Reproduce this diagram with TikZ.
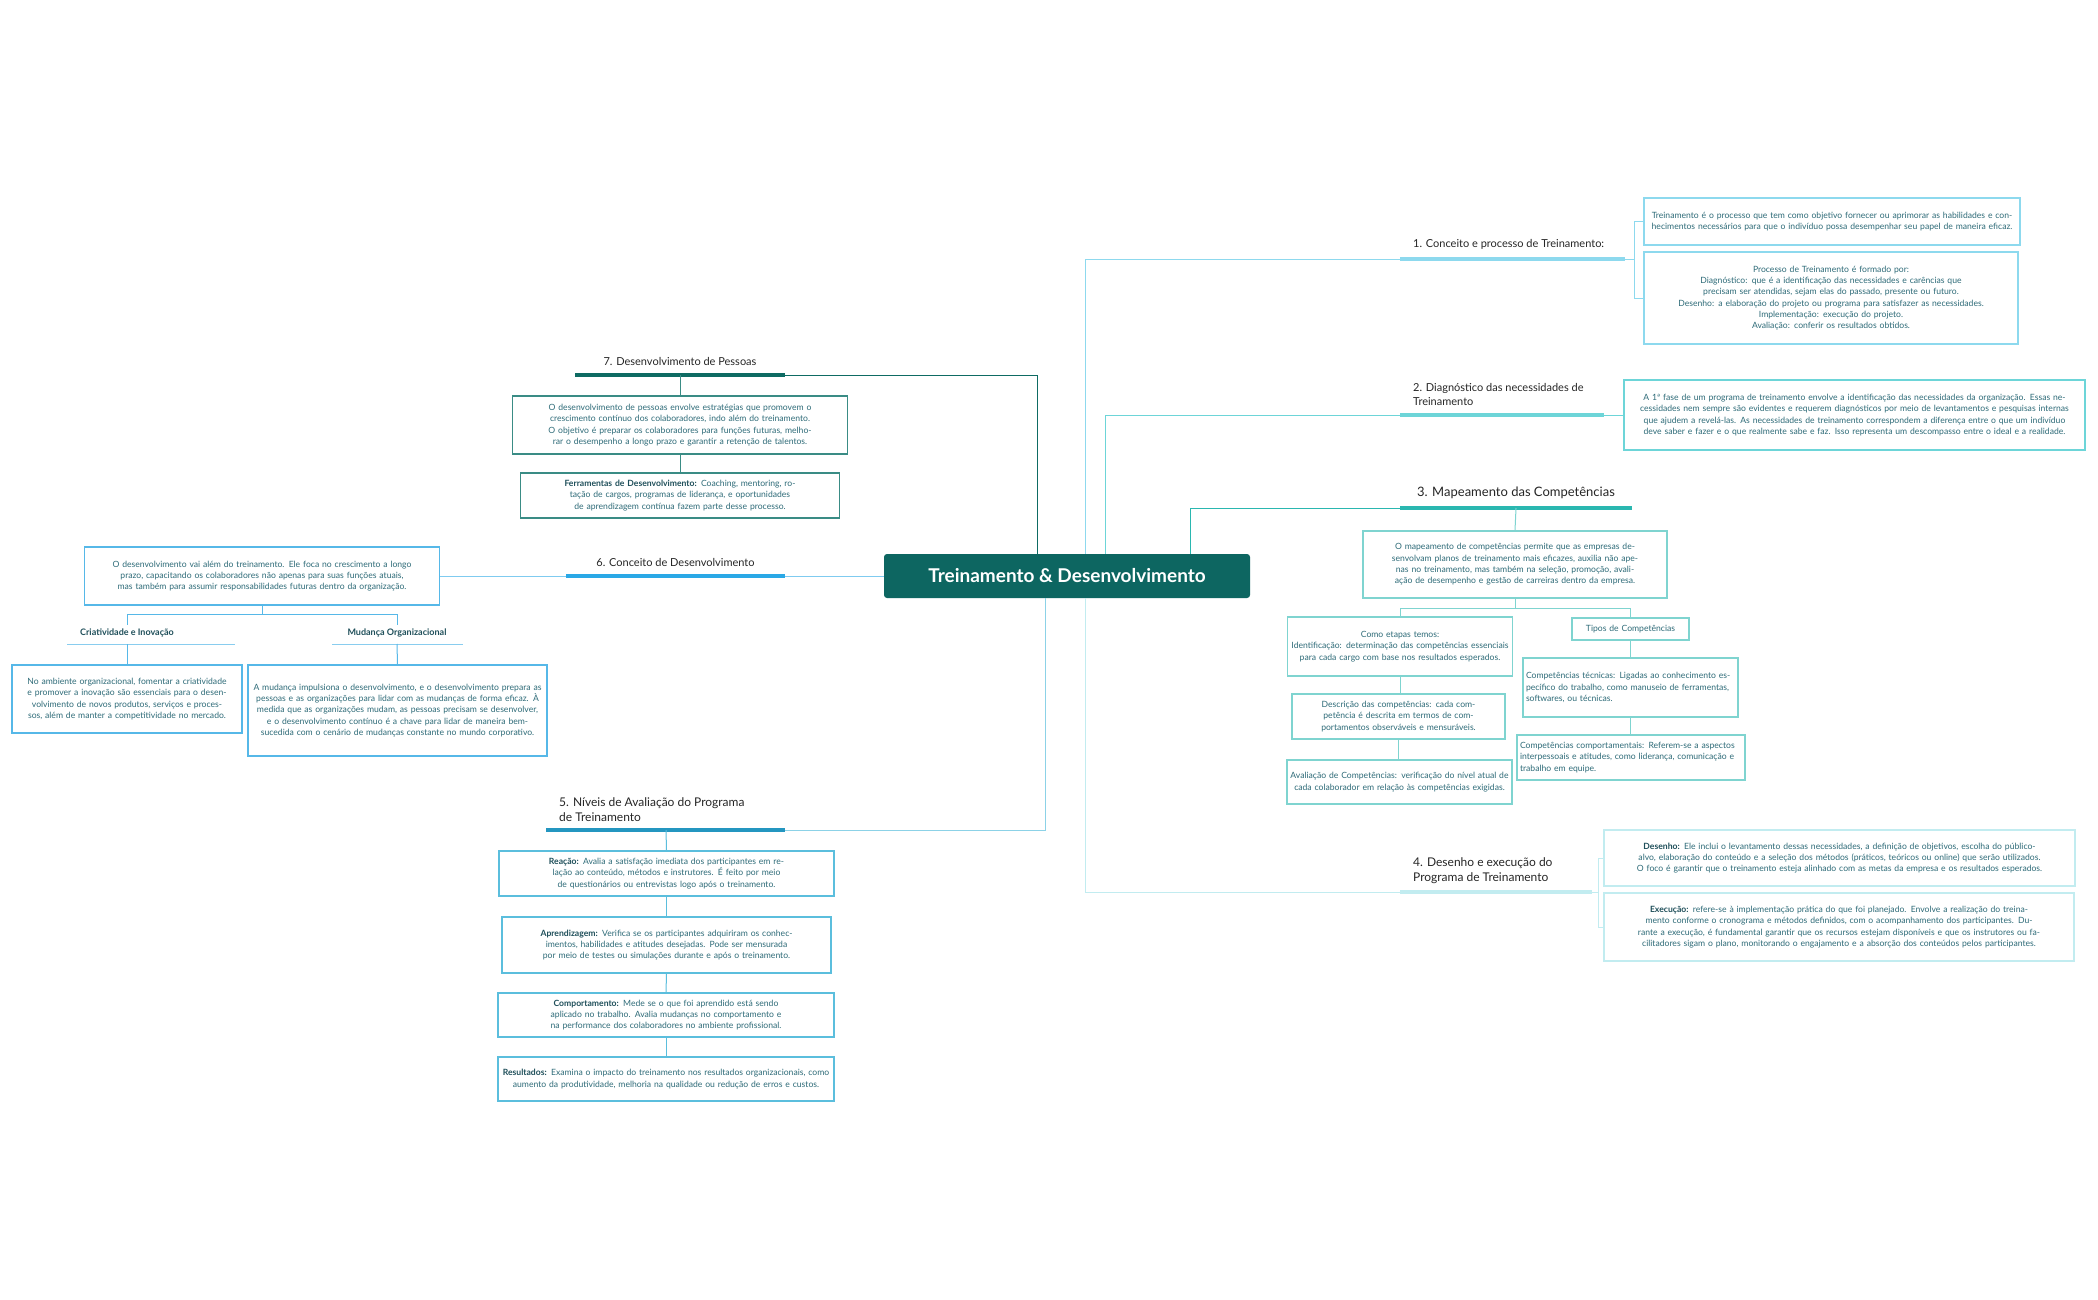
\documentclass[tikz,border=0pt]{standalone}
\usepackage{fontspec}
\setmainfont{Lato}
\definecolor{cA}{HTML}{8DD9EE}
\definecolor{cB}{HTML}{6DD5D8}
\definecolor{cC}{HTML}{2AB7B0}
\definecolor{cD}{HTML}{C2ECF0}
\definecolor{cE}{HTML}{2496C0}
\definecolor{cEb}{HTML}{5BBEDD}
\definecolor{cF}{HTML}{2AA8E6}
\definecolor{cFb}{HTML}{56B8E8}
\definecolor{cG}{HTML}{0E6B63}
\definecolor{cGb}{HTML}{3A8C85}
\definecolor{txt}{HTML}{2E6B78}
\definecolor{hd}{HTML}{1F4F5A}
\definecolor{central}{HTML}{0D6661}
\tikzset{
 box/.style={draw, line width=1.3pt, fill=white, align=center, font=\fontsize{8.6}{11.3}\selectfont, text=txt, inner sep=3pt},
 lbl/.style={font=\fontsize{11}{14}\selectfont, text=black!85, inner sep=0pt},
 ul/.style={line width=3.5pt},
 con/.style={line width=1pt},
}
\newcommand{\bx}[1]{\textbf{\color{hd}#1}}
\begin{document}
\begin{tikzpicture}[x=1pt,y=-1pt]
\useasboundingbox[fill=white] (0,0) rectangle (2098,1300);
% central
\node[fill=central, rounded corners=3pt, minimum width=366, minimum height=44, text=white, font=\fontsize{19}{22}\selectfont\bfseries] (c) at (1067,576) {Treinamento \& Desenvolvimento};

% ---- Branch 1
\coordinate (u1a) at (1400,259); \coordinate (u1b) at (1625,259); \coordinate (k1) at (1634,259);
\draw[con,cA] ([xshift=18]c.north) |- (u1a);
\draw[ul,cA] (u1a) -- (u1b);
\node[lbl, anchor=south west] (l1) at (1413,250) {1. Conceito e processo de Treinamento:};
\node[box, draw=cA, text width=370, minimum height=47] (b1a) at (1832,221.5) {Treinamento é o processo que tem como objetivo fornecer ou aprimorar as habilidades e conhecimentos necessários para que o indivíduo possa desempenhar seu papel de maneira eficaz.};
\node[box, draw=cA, text width=368, minimum height=92] (b1b) at (1831,298) {Processo de Treinamento é formado por:\\ * Diagnóstico: que é a identificação das necessidades e carências que precisam ser atendidas, sejam elas do passado, presente ou futuro.\\ * Desenho: a elaboração do projeto ou programa para satisfazer as necessidades.\\ * Implementação: execução do projeto.\\ * Avaliação: conferir os resultados obtidos.};
\draw[con,cA,line width=0.8pt] (u1b) -- (k1) |- (b1a.west);
\draw[con,cA,line width=0.8pt] (k1) |- (b1b.west);

% ---- Branch 2
\coordinate (u2a) at (1400,415); \coordinate (u2b) at (1604,415);
\draw[con,cB] ([xshift=38]c.north) |- (u2a);
\draw[ul,cB] (u2a) -- (u2b);
\node[lbl, anchor=south west, align=left] (l2) at (1413,406) {2. Diagnóstico das necessidades de\\Treinamento};
\node[box, draw=cB, text width=455, minimum height=70] (b2) at (1854.5,415) {A 1ª fase de um programa de treinamento envolve a identificação das necessidades da organização. Essas necessidades nem sempre são evidentes e requerem diagnósticos por meio de levantamentos e pesquisas internas que ajudem a revelá-las. As necessidades de treinamento correspondem a diferença entre o que um indivíduo deve saber e fazer e o que realmente sabe e faz. Isso representa um descompasso entre o ideal e a realidade.};
\draw[con,cB,line width=0.8pt] (u2b) -- (b2.west);

% ---- Branch 3
\coordinate (u3a) at (1400,508); \coordinate (u3b) at (1632,508); \coordinate (u3m) at (1516,508);
\draw[con,cC] ([xshift=123]c.north) |- (u3a);
\draw[ul,cC] (u3a) -- (u3b);
\node[lbl, font=\fontsize{13}{16}\selectfont, anchor=south] (l3) at (1516,499) {3. Mapeamento das Competências};
\node[box, draw=cC!60, text width=298, minimum height=67] (b3) at (1515,564.5) {O mapeamento de competências permite que as empresas desenvolvam planos de treinamento mais eficazes, auxilia não apenas no treinamento, mas também na seleção, promoção, avaliação de desempenho e gestão de carreiras dentro da empresa.};
\node[box, draw=cC!60, text width=219, minimum height=59] (b3l1) at (1400,646.5) {Como etapas temos:\\Identificação: determinação das competências essenciais para cada cargo com base nos resultados esperados.};
\node[box, draw=cC!60, text width=207, minimum height=45] (b3l2) at (1398.5,716.5) {Descrição das competências: cada competência é descrita em termos de comportamentos observáveis e mensuráveis.};
\node[box, draw=cC!60, text width=219, minimum height=44] (b3l3) at (1399.5,782) {Avaliação de Competências: verificação do nível atual de cada colaborador em relação às competências exigidas.};
\node[box, draw=cC!60, text width=111, minimum height=22] (b3r1) at (1630.5,629) {Tipos de Competências};
\node[box, draw=cC!60, text width=209, minimum height=59, align=left] (b3r2) at (1630.5,687.5) {Competências técnicas: Ligadas ao conhecimento específico do trabalho, como manuseio de ferramentas, softwares, ou técnicas.};
\node[box, draw=cC!60, text width=222, minimum height=45, align=left] (b3r3) at (1631,757.5) {Competências comportamentais: Referem-se a aspectos interpessoais e atitudes, como liderança, comunicação e trabalho em equipe.};
\draw[con,cC!60] (u3m) -- (b3.north);
\draw[con,cC!60] (b3.south) -- ++(0,10) -| (b3l1.north);
\draw[con,cC!60] (b3.south) -- ++(0,10) -| (b3r1.north);
\draw[con,cC!60] (b3l1.south) -- (b3l1.south |- b3l2.north);
\draw[con,cC!60] (b3l2.south) -- (b3l2.south |- b3l3.north);
\draw[con,cC!60] (b3r1.south) -- (b3r1.south |- b3r2.north);
\draw[con,cC!60] (b3r2.south) -- (b3r2.south |- b3r3.north);

% ---- Branch 4
\coordinate (u4a) at (1400,892); \coordinate (u4b) at (1592,892); \coordinate (k4) at (1598,892);
\draw[con,cD] ([xshift=18]c.south) |- (u4a);
\draw[ul,cD] (u4a) -- (u4b);
\node[lbl, font=\fontsize{12}{15}\selectfont, anchor=south west, align=left] (l4) at (1413,884) {4. Desenho e execução do\\Programa de Treinamento};
\node[box, draw=cD, text width=465, minimum height=56] (b4a) at (1839.5,858) {\bx{Desenho:} Ele inclui o levantamento dessas necessidades, a definição de objetivos, escolha do público-alvo, elaboração do conteúdo e a seleção dos métodos (práticos, teóricos ou online) que serão utilizados. O foco é garantir que o treinamento esteja alinhado com as metas da empresa e os resultados esperados.};
\node[box, draw=cD, text width=464, minimum height=68] (b4b) at (1839,927) {\bx{Execução:} refere-se à implementação prática do que foi planejado. Envolve a realização do treinamento conforme o cronograma e métodos definidos, com o acompanhamento dos participantes. Durante a execução, é fundamental garantir que os recursos estejam disponíveis e que os instrutores ou facilitadores sigam o plano, monitorando o engajamento e a absorção dos conteúdos pelos participantes.};
\draw[con,cD,line width=0.8pt] (u4b) -- (k4) |- (b4a.west);
\draw[con,cD,line width=0.8pt] (k4) |- (b4b.west);

% ---- Branch 7
\coordinate (u7a) at (575,375); \coordinate (u7b) at (785,375); \coordinate (u7m) at (680,375);
\draw[con,cG] ([xshift=-30]c.north) |- (u7b);
\draw[ul,cG] (u7a) -- (u7b);
\node[lbl, anchor=south] (l7) at (680,366) {7. Desenvolvimento de Pessoas};
\node[box, draw=cGb, text width=329, minimum height=58] (b7a) at (680,425) {O desenvolvimento de pessoas envolve estratégias que promovem o crescimento contínuo dos colaboradores, indo além do treinamento. O objetivo é preparar os colaboradores para funções futuras, melhorar o desempenho a longo prazo e garantir a retenção de talentos.};
\node[box, draw=cGb, text width=313, minimum height=45] (b7b) at (680,495.5) {\bx{Ferramentas de Desenvolvimento:} Coaching, mentoring, rotação de cargos, programas de liderança, e oportunidades de aprendizagem contínua fazem parte desse processo.};
\draw[con,cGb] (u7m) -- (b7a.north);
\draw[con,cGb] (b7a.south) -- (b7b.north);

% ---- Branch 6
\coordinate (u6a) at (566,576); \coordinate (u6b) at (785,576);
\draw[con,cF!60] (c.west) -- (u6b);
\draw[ul,cF] (u6a) -- (u6b);
\node[lbl, anchor=south] (l6) at (675.5,567) {6. Conceito de Desenvolvimento};
\node[box, draw=cFb, text width=349, minimum height=58] (b6) at (262,576) {O desenvolvimento vai além do treinamento. Ele foca no crescimento a longo prazo, capacitando os colaboradores não apenas para suas funções atuais, mas também para assumir responsabilidades futuras dentro da organização.};
\draw[con,cF!60] (u6a) -- (b6.east);
\node[font=\fontsize{9}{11}\selectfont\bfseries, text=hd] (l6a) at (127,633) {Criatividade e Inovação};
\node[font=\fontsize{9}{11}\selectfont\bfseries, text=hd] (l6b) at (397,633) {Mudança Organizacional};
\coordinate (u6c) at (67,644); \coordinate (u6d) at (235,644); \coordinate (u6cm) at (127,644);
\coordinate (u6e) at (332,644); \coordinate (u6f) at (463,644); \coordinate (u6em) at (397,644);
\draw[cFb!70,line width=1pt] (u6c) -- (u6d);
\draw[cFb!70,line width=1pt] (u6e) -- (u6f);
\draw[con,cFb] (b6.south) -- ++(0,9) -| (l6a.north);
\draw[con,cFb] (b6.south) -- ++(0,9) -| (l6b.north);
\node[box, draw=cFb, text width=224, minimum height=68] (b6a) at (127,699) {No ambiente organizacional, fomentar a criatividade e promover a inovação são essenciais para o desenvolvimento de novos produtos, serviços e processos, além de manter a competitividade no mercado.};
\node[box, draw=cFb, text width=293, minimum height=91] (b6b) at (397.5,710.5) {A mudança impulsiona o desenvolvimento, e o desenvolvimento prepara as pessoas e as organizações para lidar com as mudanças de forma eficaz. À medida que as organizações mudam, as pessoas precisam se desenvolver, e o desenvolvimento contínuo é a chave para lidar de maneira bem-sucedida com o cenário de mudanças constante no mundo corporativo.};
\draw[con,cFb] (u6cm) -- (b6a.north);
\draw[con,cFb] (u6em) -- (b6b.north);

% ---- Branch 5
\coordinate (u5a) at (546,830); \coordinate (u5b) at (785,830); \coordinate (u5m) at (666,830);
\draw[con,cEb!70] ([xshift=-22]c.south) |- (u5b);
\draw[ul,cE] (u5a) -- (u5b);
\node[lbl, font=\fontsize{12}{15}\selectfont, anchor=south west, align=left] (l5) at (559,822) {5. Níveis de Avaliação do Programa\\de Treinamento};
\node[box, draw=cEb, text width=329, minimum height=45] (b5a) at (666.5,873.5) {\bx{Reação:} Avalia a satisfação imediata dos participantes em relação ao conteúdo, métodos e instrutores. É feito por meio de questionários ou entrevistas logo após o treinamento.};
\node[box, draw=cEb, text width=323, minimum height=56] (b5b) at (666.5,945) {\bx{Aprendizagem:} Verifica se os participantes adquiriram os conhecimentos, habilidades e atitudes desejadas. Pode ser mensurada por meio de testes ou simulações durante e após o treinamento.};
\node[box, draw=cEb, text width=330, minimum height=44] (b5c) at (666,1015) {\bx{Comportamento:} Mede se o que foi aprendido está sendo aplicado no trabalho. Avalia mudanças no comportamento e na performance dos colaboradores no ambiente profissional.};
\node[box, draw=cEb, text width=330, minimum height=44] (b5d) at (666,1079) {\bx{Resultados:} Examina o impacto do treinamento nos resultados organizacionais, como aumento da produtividade, melhoria na qualidade ou redução de erros e custos.};
\draw[con,cEb] (u5m) -- (b5a.north);
\draw[con,cEb] (b5a.south) -- (b5b.north);
\draw[con,cEb] (b5b.south) -- (b5c.north);
\draw[con,cEb] (b5c.south) -- (b5d.north);
\end{tikzpicture}
\end{document}
